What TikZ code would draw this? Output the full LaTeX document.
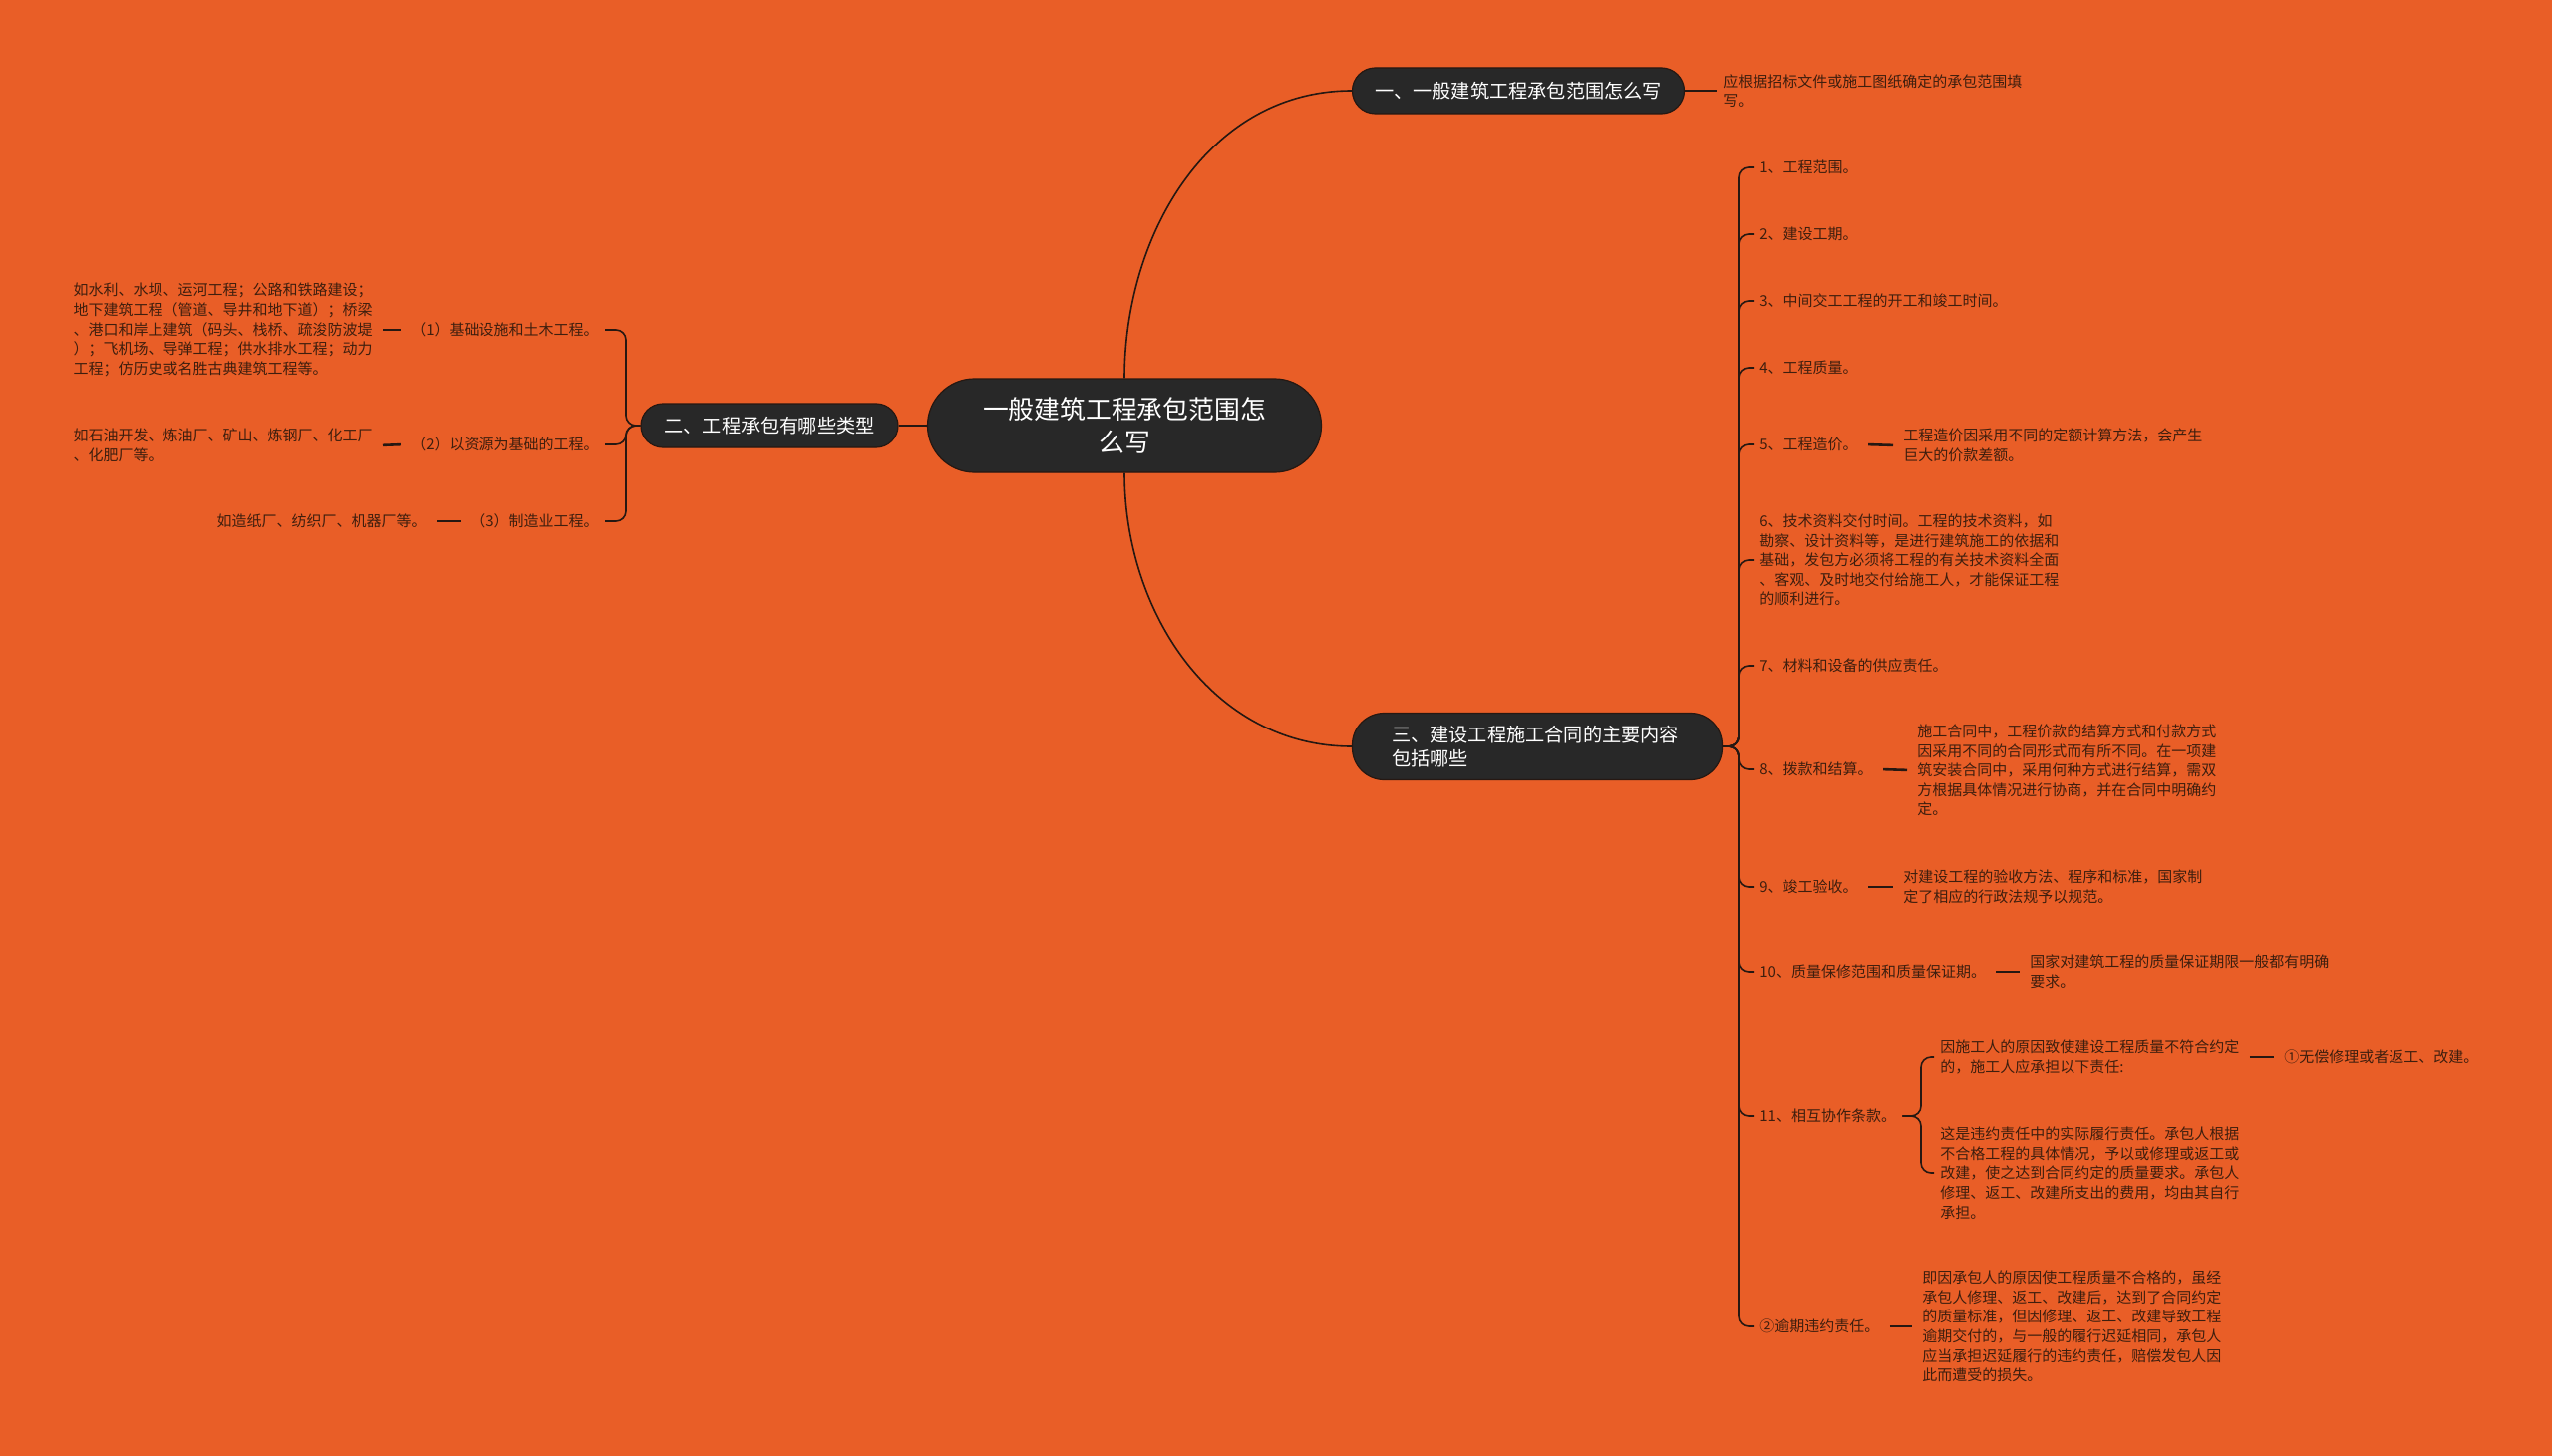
\documentclass[tikz,border=0pt]{standalone}
\usepackage{fontspec}
\newfontfamily\cjk{Noto Sans CJK SC}
\definecolor{mapbg}{RGB}{233,94,39}
\definecolor{pill}{RGB}{40,40,40}
\definecolor{ink}{RGB}{62,30,14}
\definecolor{wire}{RGB}{38,24,18}

\begin{document}
\begin{tikzpicture}[x=0.5pt,y=-0.5pt,
    topic/.style={fill=pill, draw=wire, line width=0.6pt, text=white,
      font=\cjk\fontsize{9.6pt}{12pt}\selectfont},
    item/.style={text=ink, font=\cjk\fontsize{7.5pt}{9.8pt}\selectfont,
      inner sep=3pt, align=left},
    link/.style={draw=wire, line width=0.8pt},
    fork/.style={link, rounded corners=5pt},
    tick/.style={draw=wire, line width=1.3pt, shorten <=2pt, shorten >=2pt}]
    \fill[mapbg] (0,0) rectangle (2560,1461);
    \useasboundingbox (0,0) rectangle (2560,1461);

    % main topics
    \node[topic, font=\cjk\fontsize{12.9pt}{16.5pt}\selectfont, align=center,
      minimum width=197.5pt, minimum height=47pt, rounded corners=23.5pt] (root) at (1128,427)
      {一般建筑工程承包范围怎\\么写};
    \node[topic, minimum width=166.5pt, minimum height=23pt, rounded corners=11.5pt] (b1) at (1523,91)
      {一、一般建筑工程承包范围怎么写};
    \node[topic, minimum width=129pt, minimum height=22pt, rounded corners=11pt] (b2) at (772,427)
      {二、工程承包有哪些类型};
    \node[topic, text width=146pt, align=left, inner xsep=19.75pt, minimum height=33.5pt,
      rounded corners=16pt] (b3) at (1542,749)
      {三、建设工程施工合同的主要内容\\包括哪些};

    \draw[link] (root.north) to[out=90, in=180] (b1.west);
    \draw[link] (root.south) to[out=-90, in=180] (b3.west);
    \draw[link] (root.west) -- (b2.east);

    % branch one
    \node[item, anchor=west] (a1) at (1722,91)
      {应根据招标文件或施工图纸确定的承包范围填\\写。};
    \draw[link] (b1.east) -- (a1.west);

    % branch two
    \node[item, anchor=east] (c1) at (607,331) {（1）基础设施和土木工程。};
    \node[item, anchor=east] (c2) at (607,446) {（2）以资源为基础的工程。};
    \node[item, anchor=east] (c3) at (607,523) {（3）制造业工程。};
    \foreach \n in {c1,c2,c3}
      \draw[fork] (b2.west) -- (628,427) |- (\n.east);

    \node[item, anchor=east] (d1) at (380,331)
      {如水利、水坝、运河工程；公路和铁路建设；\\地下建筑工程（管道、导井和地下道）；桥梁\\、港口和岸上建筑（码头、栈桥、疏浚防波堤\\）；飞机场、导弹工程；供水排水工程；动力\\工程；仿历史或名胜古典建筑工程等。};
    \node[item, anchor=east] (d2) at (380,447)
      {如石油开发、炼油厂、矿山、炼钢厂、化工厂\\、化肥厂等。};
    \node[item, anchor=east] (d3) at (434,523) {如造纸厂、纺织厂、机器厂等。};
    \draw[tick] (d1.east) -- (c1.west);
    \draw[tick] (d2.east) -- (c2.west);
    \draw[tick] (d3.east) -- (c3.west);

    % branch three
    \node[item, anchor=west] (r1) at (1759,168) {1、工程范围。};
    \node[item, anchor=west] (r2) at (1759,235) {2、建设工期。};
    \node[item, anchor=west] (r3) at (1759,302) {3、中间交工工程的开工和竣工时间。};
    \node[item, anchor=west] (r4) at (1759,369) {4、工程质量。};
    \node[item, anchor=west] (r5) at (1759,446) {5、工程造价。};
    \node[item, anchor=west] (r6) at (1759,562)
      {6、技术资料交付时间。工程的技术资料，如\\勘察、设计资料等，是进行建筑施工的依据和\\基础，发包方必须将工程的有关技术资料全面\\、客观、及时地交付给施工人，才能保证工程\\的顺利进行。};
    \node[item, anchor=west] (r7) at (1759,668) {7、材料和设备的供应责任。};
    \node[item, anchor=west] (r8) at (1759,772) {8、拨款和结算。};
    \node[item, anchor=west] (r9) at (1759,890) {9、竣工验收。};
    \node[item, anchor=west] (r10) at (1759,975) {10、质量保修范围和质量保证期。};
    \node[item, anchor=west] (r11) at (1759,1120) {11、相互协作条款。};
    \node[item, anchor=west] (r12) at (1759,1331) {②逾期违约责任。};
    \foreach \n in {r1,r2,r3,r4,r5,r6,r7,r8,r9,r10,r11,r12}
      \draw[fork] (b3.east) -- (1744,749) |- (\n.west);

    \node[item, anchor=west] (e5) at (1903,447)
      {工程造价因采用不同的定额计算方法，会产生\\巨大的价款差额。};
    \node[item, anchor=west] (e8) at (1917,773)
      {施工合同中，工程价款的结算方式和付款方式\\因采用不同的合同形式而有所不同。在一项建\\筑安装合同中，采用何种方式进行结算，需双\\方根据具体情况进行协商，并在合同中明确约\\定。};
    \node[item, anchor=west] (e9) at (1903,890)
      {对建设工程的验收方法、程序和标准，国家制\\定了相应的行政法规予以规范。};
    \node[item, anchor=west] (e10) at (2030,975)
      {国家对建筑工程的质量保证期限一般都有明确\\要求。};
    \node[item, anchor=west] (e12) at (1922,1331)
      {即因承包人的原因使工程质量不合格的，虽经\\承包人修理、返工、改建后，达到了合同约定\\的质量标准，但因修理、返工、改建导致工程\\逾期交付的，与一般的履行迟延相同，承包人\\应当承担迟延履行的违约责任，赔偿发包人因\\此而遭受的损失。};
    \draw[tick] (r5.east) -- (e5.west);
    \draw[tick] (r8.east) -- (e8.west);
    \draw[tick] (r9.east) -- (e9.west);
    \draw[tick] (r10.east) -- (e10.west);
    \draw[tick] (r12.east) -- (e12.west);

    % clause eleven
    \node[item, anchor=west] (s1) at (1940,1061)
      {因施工人的原因致使建设工程质量不符合约定\\的，施工人应承担以下责任:};
    \node[item, anchor=west] (s2) at (1940,1177)
      {这是违约责任中的实际履行责任。承包人根据\\不合格工程的具体情况，予以或修理或返工或\\改建，使之达到合同约定的质量要求。承包人\\修理、返工、改建所支出的费用，均由其自行\\承担。};
    \foreach \n in {s1,s2}
      \draw[fork] (r11.east) -- (1927,1120) |- (\n.west);
    \node[item, anchor=west] (t1) at (2285,1061) {①无偿修理或者返工、改建。};
    \draw[tick] (s1.east) -- (t1.west);
\end{tikzpicture}
\end{document}
